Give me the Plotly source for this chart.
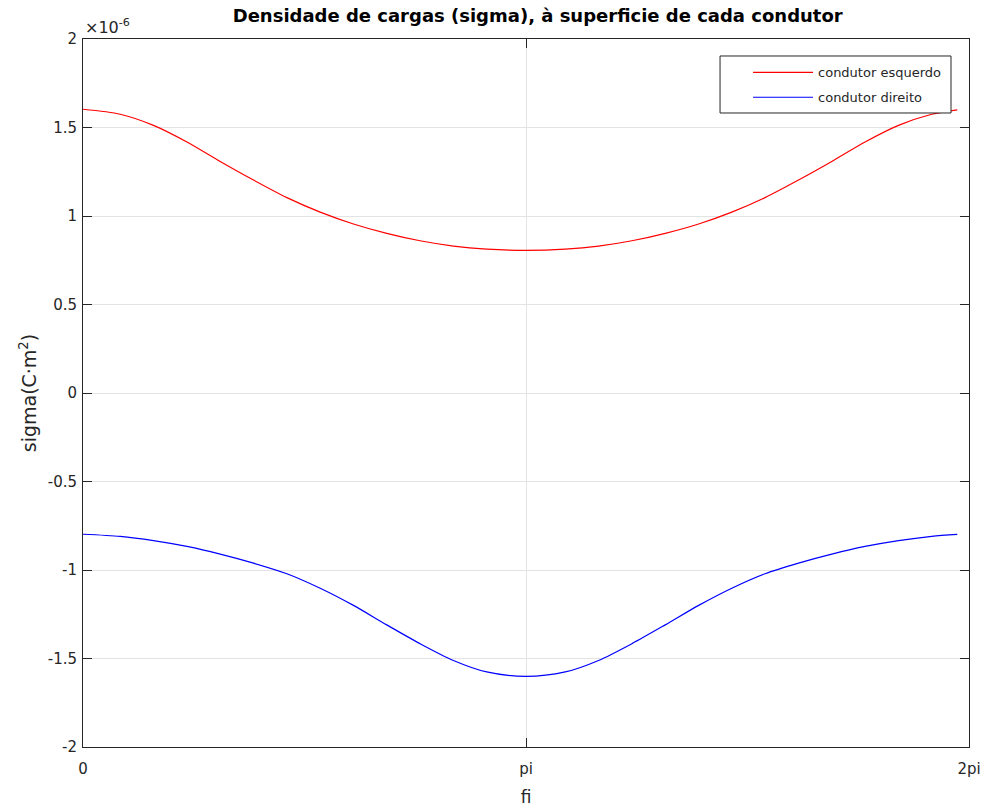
import math
import plotly.graph_objects as go

# Angle around each conductor surface (rad)
fi = [0.0, 0.264, 0.500, 0.737, 0.973, 1.209, 1.446, 1.682, 1.918, 2.154,
      2.390, 2.627, 2.863, 3.1416, 3.420, 3.656, 3.893, 4.129, 4.366, 4.601,
      4.837, 5.074, 5.310, 5.546, 5.783, 6.019, 6.2]

# Surface charge density, in units of 1e-6 C/m^2
sigma_esquerdo = [1.603, 1.575, 1.512, 1.418, 1.308, 1.203, 1.104, 1.022, 0.955, 0.902,
                  0.860, 0.830, 0.813, 0.806, 0.813, 0.830, 0.860, 0.902, 0.955, 1.022,
                  1.104, 1.203, 1.308, 1.418, 1.512, 1.575, 1.600]
sigma_direito = [-0.798, -0.810, -0.834, -0.867, -0.910, -0.961, -1.021, -1.103, -1.200, -1.310,
                 -1.416, -1.511, -1.576, -1.601, -1.576, -1.511, -1.416, -1.310, -1.200, -1.103,
                 -1.021, -0.961, -0.910, -0.867, -0.834, -0.810, -0.799]

x_tickvals = [0, math.pi, 2 * math.pi]
x_ticktext = ["0", "pi", "2pi"]
y_tickvals = [-2, -1.5, -1, -0.5, 0, 0.5, 1, 1.5, 2]
y_ticktext = ["-2", "-1.5", "-1", "-0.5", "0", "0.5", "1", "1.5", "2"]

FONT = "DejaVu Sans, Liberation Sans, Arial, sans-serif"
AX = "#262626"

fig = go.Figure()
fig.add_trace(go.Scatter(x=fi, y=sigma_esquerdo, mode="lines", name="condutor esquerdo",
                         legendgroup="esq",
                         line=dict(color="#ff0000", width=1.2, shape="spline", smoothing=0.8)))
fig.add_trace(go.Scatter(x=fi, y=sigma_direito, mode="lines", name="condutor direito",
                         legendgroup="dir",
                         line=dict(color="#0000ff", width=1.2, shape="spline", smoothing=0.8)))

axis_common = dict(showline=True, linecolor=AX, linewidth=1, mirror="ticks",
                   ticks="inside", ticklen=9, tickcolor=AX, showgrid=True,
                   gridcolor="#e3e3e3", gridwidth=1, zeroline=False, automargin=False,
                   tickfont=dict(family=FONT, size=15, color=AX))

fig.update_xaxes(range=[0, 2 * math.pi], tickvals=x_tickvals, ticktext=x_ticktext,
                 ticklabelstandoff=8,
                 title=dict(text="fi", font=dict(family=FONT, size=17, color=AX), standoff=14),
                 **axis_common)
fig.update_yaxes(range=[-2, 2], tickvals=y_tickvals, ticktext=y_ticktext,
                 ticklabelstandoff=2,
                 title=dict(text="sigma(C·m<sup>2</sup>)", font=dict(family=FONT, size=19, color=AX),
                            standoff=6),
                 **axis_common)

fig.update_layout(
    width=983, height=807,
    margin=dict(l=83, r=14, t=39, b=60),
    paper_bgcolor="white", plot_bgcolor="white",
    title=dict(text="<b>Densidade de cargas (sigma), à superficie de cada condutor</b>",
               x=0.547, xanchor="center", y=0.981, yanchor="middle",
               font=dict(family=FONT, size=18, color="#000000")),
    legend=dict(x=0.7506, xanchor="left", y=0.974, yanchor="top",
                bgcolor="rgba(0,0,0,0)", borderwidth=0,
                font=dict(family=FONT, size=13, color=AX),
                tracegroupgap=5, itemwidth=60),
    showlegend=True,
    shapes=[dict(type="rect", xref="paper", yref="paper",
                 x0=0.719, x1=0.9797, y0=0.8955, y1=0.976,
                 fillcolor="white", line=dict(color=AX, width=1), layer="above")],
    annotations=[dict(text="×10<sup>-6</sup>", xref="paper", yref="paper",
                      x=0, y=1.0, xanchor="left", yanchor="bottom", showarrow=False,
                      font=dict(family=FONT, size=16, color=AX))],
)

fig.write_html("out.html")
